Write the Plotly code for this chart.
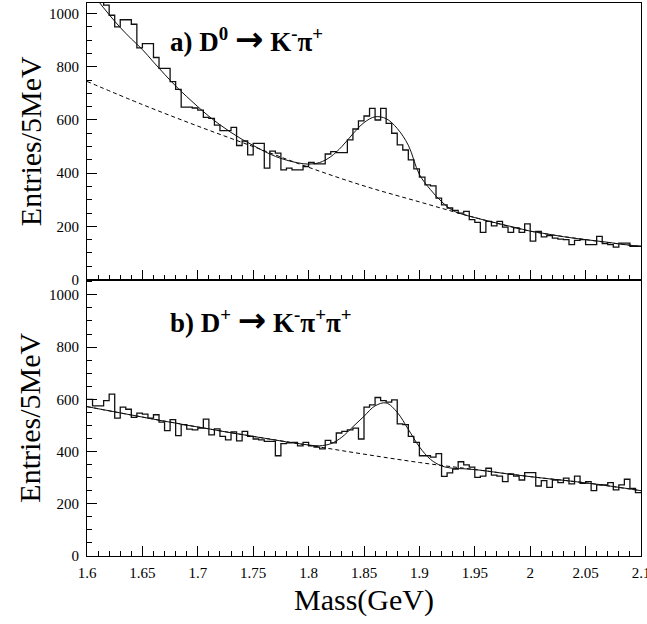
import numpy as np
import plotly.graph_objects as go

# ---------------- data ----------------
bin_edges = np.round(np.arange(1.6, 2.1 + 1e-9, 0.005), 3)   # 5 MeV bins

top_counts = [
    1110, 1075, 1045, 1032, 994, 950, 977, 977, 960, 871,
    887, 887, 835, 794, 794, 744, 715, 648, 648, 645,
    637, 610, 606, 581, 560, 560, 572, 504, 521, 469,
    512, 512, 419, 483, 475, 412, 419, 412, 412, 425,
    440, 435, 435, 472, 481, 477, 477, 525, 566, 597,
    615, 644, 600, 644, 587, 550, 506, 487, 450, 416,
    385, 356, 352, 306, 281, 269, 260, 250, 256, 225,
    215, 177, 219, 202, 219, 197, 177, 194, 177, 209,
    144, 181, 160, 165, 156, 152, 150, 131, 147, 150,
    131, 131, 162, 135, 131, 122, 137, 137, 125, 125,
]

bot_counts = [
    600, 575, 575, 595, 620, 528, 570, 562, 531, 547,
    543, 528, 541, 513, 480, 522, 461, 503, 486, 483,
    490, 524, 464, 487, 458, 445, 475, 441, 477, 458,
    448, 445, 439, 439, 384, 430, 433, 435, 422, 435,
    422, 417, 410, 443, 433, 471, 477, 483, 490, 448,
    570, 579, 607, 595, 589, 598, 506, 503, 458, 435,
    384, 384, 379, 392, 305, 318, 333, 361, 349, 340,
    301, 306, 336, 310, 306, 285, 314, 306, 291, 319,
    319, 268, 289, 263, 291, 281, 298, 276, 306, 278,
    285, 250, 272, 272, 281, 253, 272, 294, 259, 243,
]

fit_x = np.round(np.arange(1.6, 2.1 + 1e-9, 0.01), 2)
top_fit = [
    1100, 1048, 996, 948, 905, 865, 818, 772, 728, 688,
    650, 614, 582, 553, 527, 504, 482, 463, 449, 439,
    434, 440, 462, 500, 548, 590, 612, 605, 568, 505,
    395, 338, 293, 260, 244, 233, 222, 212, 202, 192,
    182, 175, 168, 161, 155, 150, 145, 140, 134, 129,
    124,
]
bot_fit = [
    572, 564, 556, 548, 540, 532, 524, 516, 509, 501,
    494, 487, 479, 472, 465, 458, 451, 444, 437, 431,
    425, 422, 430, 455, 495, 535, 575, 586, 550, 485,
    418, 370, 345, 336, 334, 331, 326, 320, 314, 309,
    304, 299, 294, 290, 285, 280, 275, 269, 263, 257,
    250,
]

bkg_x = [1.60, 1.65, 1.70, 1.75, 1.80, 1.85, 1.90, 1.95, 2.00, 2.05, 2.10]
top_bkg = [745, 658, 577, 500, 422, 352, 292, 233, 182, 150, 124]
bot_bkg = [572, 532, 494, 458, 424, 390, 358, 331, 304, 280, 250]

x_ticks = [1.6, 1.65, 1.7, 1.75, 1.8, 1.85, 1.9, 1.95, 2.0, 2.05, 2.1]
x_ticktext = ["1.6", "1.65", "1.7", "1.75", "1.8", "1.85", "1.9", "1.95", "2", "2.05", "2.1"]
y_ticks = [0, 200, 400, 600, 800, 1000]
y_ticktext = ["0", "200", "400", "600", "800", "1000"]

# ---------------- figure ----------------
FONT = "Liberation Serif, Times New Roman, serif"
fig = go.Figure()

def add_panel(counts, fit, bkg, xa, ya):
    fig.add_trace(go.Scatter(
        x=bin_edges, y=list(counts) + [counts[-1]], mode="lines",
        line=dict(shape="hv", color="#111", width=1.3),
        xaxis=xa, yaxis=ya, showlegend=False, hoverinfo="skip"))
    fig.add_trace(go.Scatter(
        x=bkg_x, y=bkg, mode="lines",
        line=dict(shape="spline", color="black", width=1, dash="4px,3px"),
        xaxis=xa, yaxis=ya, showlegend=False, hoverinfo="skip"))
    fig.add_trace(go.Scatter(
        x=fit_x, y=fit, mode="lines",
        line=dict(shape="spline", color="#111", width=1),
        xaxis=xa, yaxis=ya, showlegend=False, hoverinfo="skip"))

add_panel(top_counts, top_fit, top_bkg, "x", "y")
add_panel(bot_counts, bot_fit, bot_bkg, "x2", "y2")

minor_x = dict(ticks="inside", ticklen=5, tickcolor="black", tick0=1.6, dtick=0.01, showgrid=False)
minor_y = dict(ticks="inside", ticklen=5, tickcolor="black", tick0=0, dtick=50, showgrid=False)

common_x = dict(range=[1.6, 2.1], tickmode="array", tickvals=x_ticks, ticktext=x_ticktext,
                ticks="inside", ticklen=10, tickcolor="black", showline=True, linecolor="black",
                linewidth=1, mirror=True, showgrid=False, zeroline=False, minor=minor_x,
                tickfont=dict(family=FONT, size=15, color="black"), ticklabelstandoff=3,
                ticklabeloverflow="allow", automargin=False)
common_y = dict(tickmode="array", tickvals=y_ticks, ticktext=y_ticktext,
                ticks="inside", ticklen=10, tickcolor="black", showline=True, linecolor="black",
                linewidth=1, mirror=True, showgrid=False, zeroline=False, minor=minor_y,
                tickfont=dict(family=FONT, size=15, color="black"), ticklabelstandoff=4,
                automargin=False)

fig.update_layout(
    width=647, height=624,
    margin=dict(l=87, r=6, t=3, b=68, autoexpand=False),
    paper_bgcolor="white", plot_bgcolor="white",
    xaxis=dict(common_x, domain=[0, 1], anchor="y", showticklabels=False),
    yaxis=dict(common_y, domain=[0.5, 1], range=[0, 1040], anchor="x"),
    xaxis2=dict(common_x, domain=[0, 1], anchor="y2", showticklabels=True),
    yaxis2=dict(common_y, domain=[0, 0.4982], range=[0, 1055], anchor="x2"),
)

ARROW = "<span style='font-family:DejaVu Sans;font-size:34px'>→</span>"
ann_font = dict(family=FONT, size=27, color="black")
fig.add_annotation(text=f"<b>a) D<sup>0</sup> {ARROW} K<sup>-</sup>π<sup>+</sup></b>",
                   xref="x", yref="y", x=1.673, y=903, xanchor="left", yanchor="middle",
                   showarrow=False, font=ann_font)
fig.add_annotation(text=f"<b>b) D<sup>+</sup> {ARROW} K<sup>-</sup>π<sup>+</sup>π<sup>+</sup></b>",
                   xref="x2", yref="y2", x=1.673, y=903, xanchor="left", yanchor="middle",
                   showarrow=False, font=ann_font)

title_font = dict(family=FONT, size=30, color="black")
fig.add_annotation(text="Entries/5MeV", xref="paper", yref="paper",
                   x=-0.103, y=0.75, textangle=-90, showarrow=False, font=title_font,
                   xanchor="center", yanchor="middle")
fig.add_annotation(text="Entries/5MeV", xref="paper", yref="paper",
                   x=-0.103, y=0.25, textangle=-90, showarrow=False, font=title_font,
                   xanchor="center", yanchor="middle")
fig.add_annotation(text="Mass(GeV)", xref="paper", yref="paper",
                   x=0.5, y=-0.079, showarrow=False, font=title_font,
                   xanchor="center", yanchor="middle")

fig.write_html("out.html")
